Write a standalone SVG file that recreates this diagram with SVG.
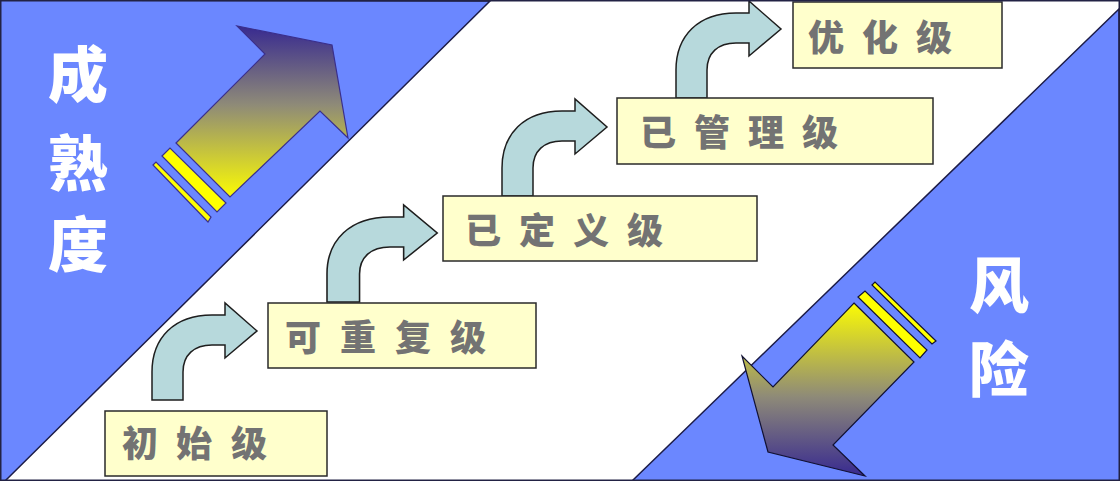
<svg xmlns="http://www.w3.org/2000/svg" width="1120" height="481" viewBox="0 0 1120 481">
<defs>
<style>
.tri{fill:#6B87FF;stroke:#1C1C48;stroke-width:1.5}
.box{fill:#FFFFCC;stroke:#2A2A2A;stroke-width:1.5}
.lbl{font-family:"Noto Sans CJK SC","Noto Sans CJK JP",sans-serif;font-weight:900;font-size:36px;fill:#737373}
.side{font-family:"Noto Sans CJK SC","Noto Sans CJK JP",sans-serif;font-weight:900;font-size:60px;fill:#FFFFFF;text-anchor:middle}
.curv{fill:#B7D9DC;stroke:#1E1E1E;stroke-width:1.5}
</style>
<linearGradient id="gUp" x1="0" y1="26" x2="0" y2="200" gradientUnits="userSpaceOnUse">
<stop offset="0" stop-color="#382A90"/>
<stop offset="0.45" stop-color="#8E8A78"/>
<stop offset="1" stop-color="#FFFF00"/>
</linearGradient>
<linearGradient id="gDown" x1="0" y1="300" x2="0" y2="476" gradientUnits="userSpaceOnUse">
<stop offset="0" stop-color="#FFFF00"/>
<stop offset="0.55" stop-color="#8E8A78"/>
<stop offset="1" stop-color="#382A90"/>
</linearGradient>
<path id="bend" d="M0,0 L0,-28 C0,-62 22,-85 60,-85 L73,-85 L73,-97 L105,-69 L73,-42 L73,-55 L60,-55 C42,-55 31,-45 31,-28 L31,0 Z"/>
</defs>
<rect x="0" y="0" width="1120" height="481" fill="#FFFFFF"/>
<g id="bg">
<polygon class="tri" points="0,0 490,1 5,481 0,481"/>
<polygon class="tri" points="1119,9 1120,481 632,481"/>
</g>
<g id="maturity">
<polygon points="176,143 265,54 237,26 332,45 348,138 320,111 230,197" fill="url(#gUp)" stroke="#3A2F8C" stroke-width="1.2"/>
<polygon points="162,156 170,148 226,203 217,212" fill="#FFFF00" stroke="#3A2F8C" stroke-width="1.2"/>
<polygon points="153,165 156,162 211,217 208,222" fill="#FFFF00" stroke="#3A2F8C" stroke-width="1.2"/>
<text class="side" x="78" y="97">成</text>
<text class="side" x="78" y="186">熟</text>
<text class="side" x="78" y="267">度</text>
</g>
<g id="risk">
<polygon points="854,303 914,362 833,445 865,476 768,452 742,356 773,387" fill="url(#gDown)" stroke="#111133" stroke-width="1.2"/>
<polygon points="858,297 865,291 927,350 920,358" fill="#FFFF00" stroke="#111133" stroke-width="1.2"/>
<polygon points="872,285 875,282 936,341 932,344" fill="#FFFF00" stroke="#111133" stroke-width="1.2"/>
<text class="side" x="999" y="308">风</text>
<text class="side" x="999" y="392">险</text>
</g>
<g id="connectors">
<use href="#bend" class="curv" transform="translate(152,400)"/>
<use href="#bend" class="curv" transform="translate(327,302) scale(1.05,1)"/>
<use href="#bend" class="curv" transform="translate(502,196)"/>
<use href="#bend" class="curv" transform="translate(676,98)"/>
</g>
<g id="level1">
<rect class="box" x="105" y="411" width="222" height="65"/>
<text class="lbl" x="122 176 231" y="457">初始级</text>
</g>
<g id="level2">
<rect class="box" x="268" y="303" width="268" height="65"/>
<text class="lbl" x="285 340 395 450" y="351">可重复级</text>
</g>
<g id="level3">
<rect class="box" x="443" y="196" width="314" height="65"/>
<text class="lbl" x="465 519 573 627" y="244">已定义级</text>
</g>
<g id="level4">
<rect class="box" x="617" y="98" width="316" height="66"/>
<text class="lbl" x="640 694 748 802" y="146">已管理级</text>
</g>
<g id="level5">
<rect class="box" x="793" y="2" width="209" height="66"/>
<text class="lbl" x="808 862 916" y="51">优化级</text>
</g>
<rect x="0.75" y="0.75" width="1118.5" height="479.5" fill="none" stroke="#222244" stroke-width="1.5"/>
</svg>
